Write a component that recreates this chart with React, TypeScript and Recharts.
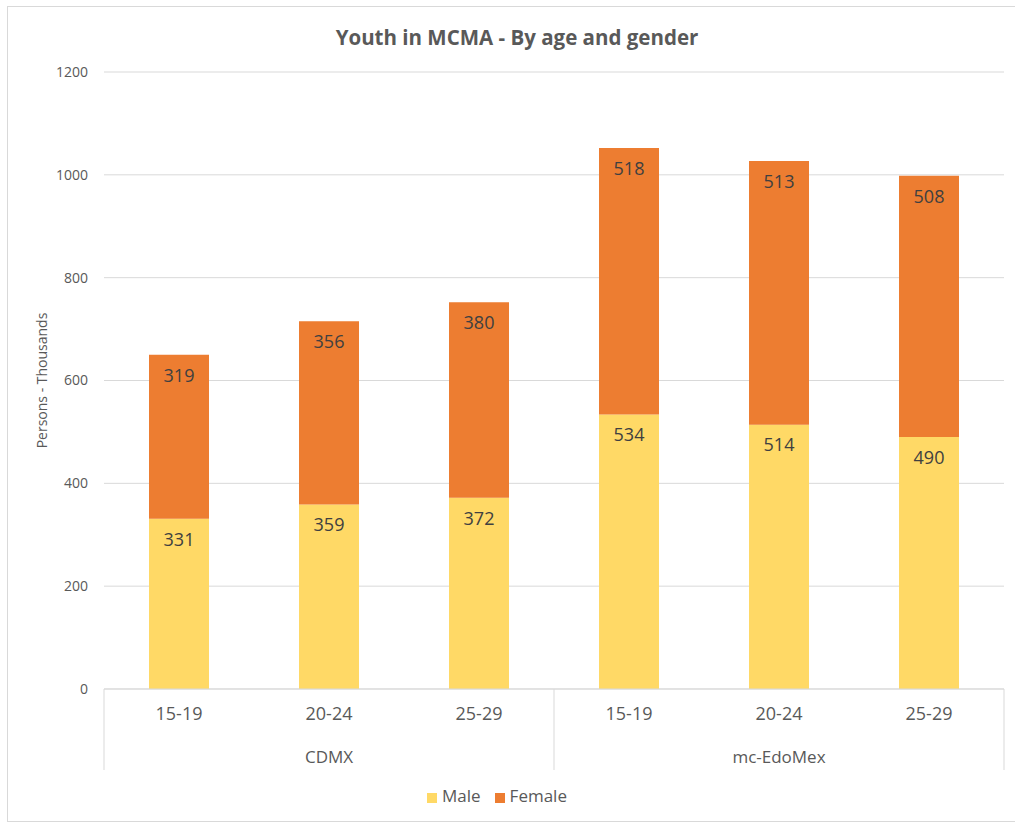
import React from "react";
import {
  BarChart,
  Bar,
  XAxis,
  YAxis,
  CartesianGrid,
  Legend,
  LabelList,
  Label,
} from "recharts";

const ages = ["15-19", "20-24", "25-29", "15-19", "20-24", "25-29"];
const regions = ["CDMX", "CDMX", "CDMX", "mc-EdoMex", "mc-EdoMex", "mc-EdoMex"];
const male = [331, 359, 372, 534, 514, 490];
const female = [319, 356, 380, 518, 513, 508];
const yTicks = [0, 200, 400, 600, 800, 1000, 1200];
const seriesOrder = ["Male", "Female"];

const data = ages.map((age, i) => ({
  key: `${regions[i]} ${age}`,
  age,
  region: regions[i],
  Male: male[i],
  Female: female[i],
}));

const TEXT = "#595959";
const LINE = "#d9d9d9";

// two-level category tick: age on top, region below, separators between regions
const AxisTick = (props: any) => {
  const { x, y, payload } = props;
  const i: number = payload.index;
  const half: number = payload.offset || 75;
  const region = regions[i];
  const start = regions.indexOf(region);
  const end = regions.lastIndexOf(region);
  const isStart = i === start;
  const isLast = i === regions.length - 1;
  return (
    <g>
      <text x={x} y={y + 31} textAnchor="middle" fill={TEXT} fontSize={18}>
        {ages[i]}
      </text>
      {isStart && (
        <text
          x={x + ((start + end) / 2 - i) * 2 * half}
          y={y + 74}
          textAnchor="middle"
          fill={TEXT}
          fontSize={17}
        >
          {region}
        </text>
      )}
      {isStart && (
        <line x1={x - half} x2={x - half} y1={y} y2={y + 81} stroke={LINE} />
      )}
      {isLast && (
        <line x1={x + half} x2={x + half} y1={y} y2={y + 81} stroke={LINE} />
      )}
    </g>
  );
};

const App = () => {
  return (
    <div
      style={{
        position: "absolute",
        left: 0,
        top: 0,
        width: 1015,
        height: 825,
        background: "#fff",
        fontFamily: "'Open Sans', sans-serif",
        overflow: "hidden",
      }}
    >
      <div
        style={{
          position: "absolute",
          left: 7,
          top: 6,
          width: 1020,
          height: 816,
          border: `1px solid ${LINE}`,
          boxSizing: "border-box",
        }}
      />
      <div
        style={{
          position: "absolute",
          top: 23,
          left: 0,
          width: 1034,
          textAlign: "center",
          fontWeight: 700,
          fontSize: 20.5,
          color: TEXT,
        }}
      >
        Youth in MCMA - By age and gender
      </div>
      <BarChart
        width={1015}
        height={825}
        data={data}
        margin={{ top: 72, right: 11, left: 0, bottom: 46 }}
        style={{ position: "absolute", left: 0, top: 0 }}
      >
        <CartesianGrid vertical={false} stroke={LINE} />
        <XAxis
          dataKey="key"
          height={90}
          tickSize={0}
          tickMargin={0}
          tickLine={false}
          axisLine={{ stroke: LINE }}
          tick={<AxisTick />}
          interval={0}
        />
        <YAxis
          width={104}
          domain={[0, 1200]}
          ticks={yTicks}
          tickSize={0}
          tickMargin={16}
          axisLine={false}
          tickLine={false}
          tick={{ fill: TEXT, fontSize: 14 }}
        >
          <Label
            value="Persons - Thousands"
            angle={-90}
            position="center"
            dx={-10}
            fill={TEXT}
            fontSize={14}
          />
        </YAxis>
        <Legend
          verticalAlign="middle"
          align="center"
          iconType="square"
          iconSize={10}
          itemSorter={(item: any) => seriesOrder.indexOf(item.value)}
          wrapperStyle={{ top: 784, left: 2, width: 1004 }}
          formatter={(value: string) => (
            <span style={{ color: TEXT, fontSize: 17, marginRight: 4, marginLeft: 1 }}>
              {value}
            </span>
          )}
        />
        <Bar
          dataKey="Male"
          stackId="a"
          fill="#FFD966"
          barSize={60}
          isAnimationActive={false}
        >
          <LabelList
            dataKey="Male"
            position="insideTop"
            offset={14}
            fill="#404040"
            fontSize={18}
          />
        </Bar>
        <Bar
          dataKey="Female"
          stackId="a"
          fill="#ED7D31"
          barSize={60}
          isAnimationActive={false}
        >
          <LabelList
            dataKey="Female"
            position="insideTop"
            offset={14}
            fill="#404040"
            fontSize={18}
          />
        </Bar>
      </BarChart>
    </div>
  );
};

export default App;
